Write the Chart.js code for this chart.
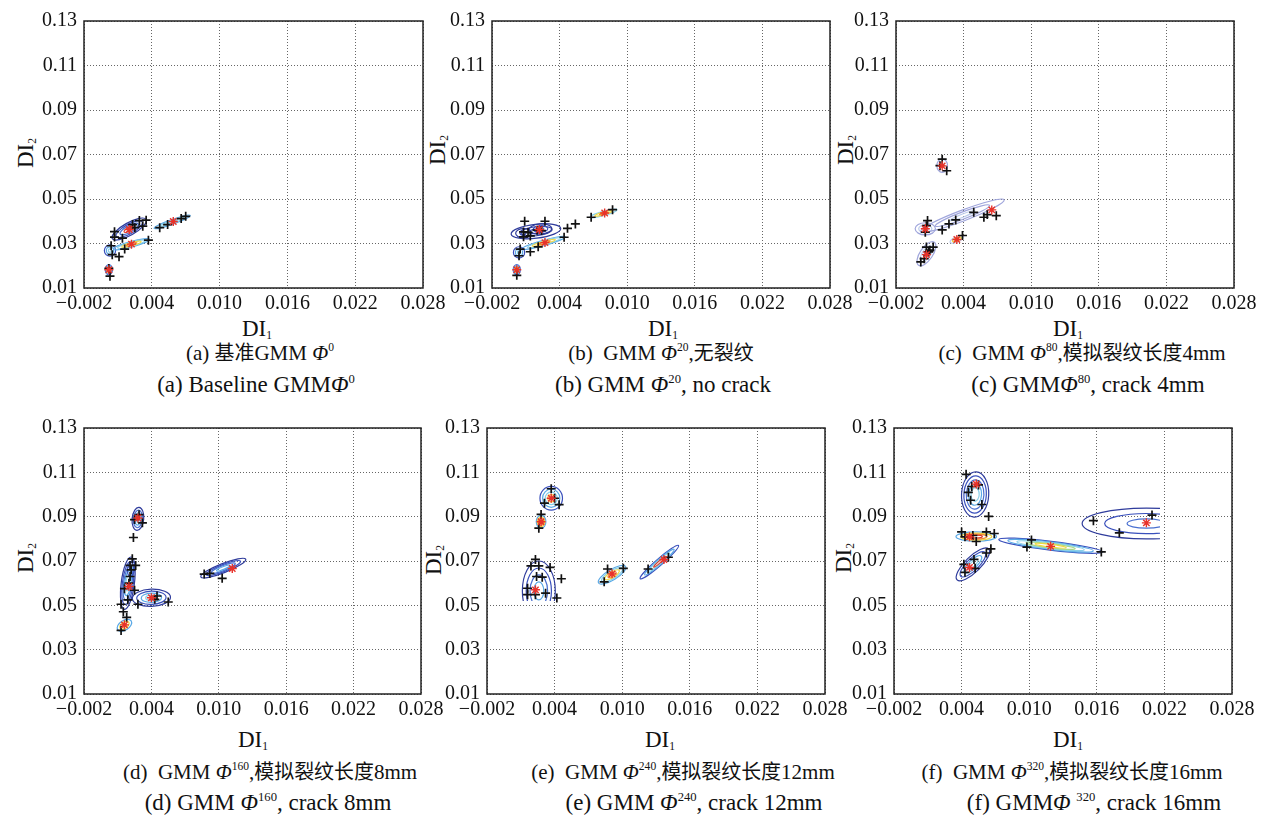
<!DOCTYPE html>
<html>
<head>
<meta charset="utf-8">
<script src="https://cdn.jsdelivr.net/npm/chart.js@4.4.1/dist/chart.umd.min.js"></script>
<style>
  body { margin: 0; background: #fff; width: 1276px; height: 816px; position: relative; overflow: hidden;
         font-family: "Liberation Serif", "Times New Roman", Times, "DejaVu Serif", serif; color: #111; }
  canvas { position: absolute; }
  .t { position: absolute; white-space: nowrap; transform: translate(-50%, -50%); line-height: 1; }
  .cjk { font-family: "Noto Sans CJK SC", sans-serif; font-size: 0.95em; }
  .ax { font-size: 23px; }
  .yt { transform: translate(-50%, -50%) rotate(-90deg); }
  .c1 { font-size: 21px; }
  .c2 { font-size: 23px; }
  sup { font-size: 0.55em; vertical-align: baseline; position: relative; top: -0.75em; }
  sub { font-size: 0.5em; vertical-align: baseline; position: relative; top: 0.3em; }
</style>
</head>
<body>

<div class="t ax" style="left:257px;top:328px">DI<sub>1</sub></div>
<div class="t ax" style="left:663px;top:328px">DI<sub>1</sub></div>
<div class="t ax" style="left:1068px;top:328px">DI<sub>1</sub></div>
<div class="t ax" style="left:253px;top:739px">DI<sub>1</sub></div>
<div class="t ax" style="left:660px;top:739px">DI<sub>1</sub></div>
<div class="t ax" style="left:1068px;top:739px">DI<sub>1</sub></div>

<div class="t ax yt" style="left:25px;top:153px">DI<sub>2</sub></div>
<div class="t ax yt" style="left:437px;top:150px">DI<sub>2</sub></div>
<div class="t ax yt" style="left:845px;top:150px">DI<sub>2</sub></div>
<div class="t ax yt" style="left:25px;top:558px">DI<sub>2</sub></div>
<div class="t ax yt" style="left:433px;top:560px">DI<sub>2</sub></div>
<div class="t ax yt" style="left:843px;top:558px">DI<sub>2</sub></div>

<div class="t c1" style="left:260px;top:353px">(a) <span class="cjk">基准</span>GMM <i>Φ</i><sup>0</sup></div>
<div class="t c2" style="left:256px;top:384px">(a) Baseline GMM<i>Φ</i><sup>0</sup></div>
<div class="t c1" style="left:661px;top:353px">(b)&nbsp; GMM <i>Φ</i><sup>20</sup>,<span class="cjk">无裂纹</span></div>
<div class="t c2" style="left:663px;top:384px">(b) GMM <i>Φ</i><sup>20</sup>, no crack</div>
<div class="t c1" style="left:1082px;top:353px">(c)&nbsp; GMM <i>Φ</i><sup>80</sup>,<span class="cjk">模拟裂纹长度</span>4mm</div>
<div class="t c2" style="left:1088px;top:384px">(c) GMM<i>Φ</i><sup>80</sup>, crack 4mm</div>
<div class="t c1" style="left:270px;top:772px">(d)&nbsp; GMM <i>Φ</i><sup>160</sup>,<span class="cjk">模拟裂纹长度</span>8mm</div>
<div class="t c2" style="left:268px;top:802px">(d) GMM <i>Φ</i><sup>160</sup>, crack 8mm</div>
<div class="t c1" style="left:683px;top:772px">(e)&nbsp; GMM <i>Φ</i><sup>240</sup>,<span class="cjk">模拟裂纹长度</span>12mm</div>
<div class="t c2" style="left:694px;top:802px">(e) GMM <i>Φ</i><sup>240</sup>, crack 12mm</div>
<div class="t c1" style="left:1072px;top:772px">(f)&nbsp; GMM <i>Φ</i><sup>320</sup>,<span class="cjk">模拟裂纹长度</span>16mm</div>
<div class="t c2" style="left:1094px;top:802px">(f) GMM<i>Φ</i> <sup>320</sup>, crack 16mm</div>

<script>
// axis ticks shared by all six panels
const xTicks = [-0.002, 0.004, 0.010, 0.016, 0.022, 0.028];
const xTickLabels = ['\u22120.002', '0.004', '0.010', '0.016', '0.022', '0.028'];
const yTicks = [0.01, 0.03, 0.05, 0.07, 0.09, 0.11, 0.13];
const yTickLabels = ['0.01', '0.03', '0.05', '0.07', '0.09', '0.11', '0.13'];

// contour colours (outer -> inner)
const NAVY = '#2f3c9c', BLUE = '#3a50bc', MID = '#4a70d0', SKY = '#5aa9e6', CYAN = '#8ad0e8',
      GREEN = '#a8d88a', YEL = '#f0d840', ORA = '#f08a30', RED = '#d83a2a', PALE = '#a0a6dc', PALE2 = '#bccbea';

// (a) baseline
const ptsA = [[0.0007,0.0353],[0.0007,0.0329],[0.0014,0.0324],[0.0025,0.0371],[0.0029,0.0403],[0.0032,0.0378],
  [0.0023,0.0385],[0.0035,0.0405],[0.0004,0.0290],[0.0005,0.0250],[0.0011,0.0241],[0.0016,0.0275],[0.0037,0.0315],
  [0.0003,0.0153],[0.0002,0.0188],[0.0047,0.0371],[0.0054,0.0385],[0.0066,0.0412],[0.0070,0.0422]];
const starsA = [[0.0020,0.0363],[0.0022,0.0297],[0.0002,0.0182],[0.0059,0.0399]];
const ellA = [
  { c: [0.0020,0.0365], e: [0.0035,0.0408], r: 0.32, cols: [NAVY, BLUE, MID, RED] },
  { c: [0.0003,0.0268], e: [0.0008,0.0268], r: 1.0, cols: [BLUE, SKY, CYAN] },
  { c: [0.0022,0.0297], e: [0.0038,0.0319], r: 0.15, cols: [SKY, CYAN, YEL, ORA] },
  { c: [0.0002,0.0182], e: [0.0002,0.0205], r: 0.7, cols: [MID, SKY, YEL, ORA] },
  { c: [0.0058,0.0397], e: [0.0074,0.0426], r: 0.12, cols: [SKY, CYAN, CYAN] }
];

// (b) no crack
const ptsB = [[0.0009,0.0400],[0.0008,0.0352],[0.0008,0.0330],[0.0014,0.0334],[0.0027,0.0400],[0.0020,0.0360],
  [0.0024,0.0358],[0.0012,0.0350],[0.0047,0.0368],[0.0054,0.0388],[0.0014,0.0263],[0.0021,0.0285],[0.0044,0.0328],
  [0.0005,0.0275],[0.0004,0.0245],[0.0002,0.0157],[0.0068,0.0418],[0.0087,0.0452]];
const starsB = [[0.0022,0.0363],[0.0027,0.0304],[0.0080,0.0437],[0.0002,0.0182]];
const ellB = [
  { c: [0.0019,0.0355], e: [0.0041,0.0368], r: 0.28, cols: [NAVY, NAVY, BLUE] },
  { c: [0.0008,0.0346], e: [0.0015,0.0346], r: 0.6, cols: [NAVY, BLUE] },
  { c: [0.0023,0.0365], e: [0.0033,0.0368], r: 0.45, cols: [NAVY, BLUE, MID] },
  { c: [0.0026,0.0303], e: [0.0045,0.0330], r: 0.12, cols: [SKY, CYAN, YEL, ORA] },
  { c: [0.0004,0.0260], e: [0.0009,0.0260], r: 1.0, cols: [BLUE, SKY, CYAN] },
  { c: [0.0002,0.0182], e: [0.0002,0.0205], r: 0.7, cols: [MID, SKY, YEL, ORA] },
  { c: [0.0079,0.0435], e: [0.0091,0.0452], r: 0.15, cols: [CYAN, YEL, ORA] }
];

// (c) crack 4mm
const ptsC = [[0.0021,0.0679],[0.0019,0.0650],[0.0025,0.0627],[0.0008,0.0403],[0.0007,0.0380],[0.0006,0.0351],
  [0.0021,0.0361],[0.0027,0.0388],[0.0033,0.0406],[0.0049,0.0440],[0.0058,0.0418],[0.0061,0.0430],[0.0069,0.0425],
  [0.0039,0.0336],[0.0007,0.0284],[0.0013,0.0284],[0.0010,0.0270],[0.0002,0.0217],[0.0005,0.0232],[0.0009,0.0262]];
const starsC = [[0.0021,0.0649],[0.0006,0.0366],[0.0065,0.0451],[0.0034,0.0318],[0.0007,0.0250]];
const ellC = [
  { c: [0.0021,0.0650], e: [0.0021,0.0680], r: 0.8, cols: [PALE, PALE2] },
  { c: [0.0006,0.0366], e: [0.0015,0.0366], r: 0.6, cols: [PALE, PALE2, PALE2] },
  { c: [0.0039,0.0425], e: [0.0076,0.0496], r: 0.12, cols: [PALE, PALE, PALE2] },
  { c: [0.0034,0.0318], e: [0.0040,0.0330], r: 0.35, cols: [PALE2, YEL, ORA] },
  { c: [0.0007,0.0254], e: [0.0014,0.0306], r: 0.45, cols: [PALE, PALE2, PALE2] }
];

// (d) crack 8mm
const ptsD = [[0.0029,0.0909],[0.0025,0.0887],[0.0032,0.0872],[0.0024,0.0806],[0.0023,0.0710],[0.0021,0.0680],
  [0.0026,0.0680],[0.0022,0.0660],[0.0021,0.0630],[0.0020,0.0600],[0.0016,0.0575],[0.0025,0.0568],[0.0013,0.0505],
  [0.0015,0.0471],[0.0019,0.0525],[0.0028,0.0505],[0.0043,0.0527],[0.0055,0.0515],[0.0045,0.0542],[0.0018,0.0446],
  [0.0013,0.0387],[0.0087,0.0641],[0.0092,0.0644],[0.0103,0.0622]];
const starsD = [[0.0028,0.0894],[0.0020,0.0585],[0.0040,0.0534],[0.0016,0.0412],[0.0112,0.0666]];
const ellD = [
  { c: [0.0028,0.0890], e: [0.0029,0.0942], r: 0.5, cols: [NAVY, MID, SKY, CYAN] },
  { c: [0.0019,0.0600], e: [0.0022,0.0718], r: 0.25, cols: [NAVY, BLUE, MID, SKY, CYAN] },
  { c: [0.0022,0.0665], e: [0.0023,0.0700], r: 0.45, cols: [BLUE, SKY] },
  { c: [0.0040,0.0534], e: [0.0057,0.0537], r: 0.45, cols: [NAVY, BLUE, SKY, CYAN] },
  { c: [0.0016,0.0410], e: [0.0022,0.0430], r: 0.6, cols: [SKY, YEL, ORA] },
  { c: [0.0104,0.0668], e: [0.0124,0.0708], r: 0.19, cols: [NAVY, BLUE, MID, SKY] }
];

// (e) crack 12mm
const ptsE = [[0.0037,0.1026],[0.0031,0.0961],[0.0044,0.0954],[0.0040,0.0983],[0.0028,0.0910],[0.0026,0.0848],
  [0.0023,0.0707],[0.0019,0.0678],[0.0026,0.0678],[0.0036,0.0671],[0.0024,0.0630],[0.0029,0.0627],[0.0046,0.0620],
  [0.0016,0.0577],[0.0016,0.0548],[0.0023,0.0548],[0.0032,0.0555],[0.0042,0.0533],[0.0087,0.0664],[0.0101,0.0667],
  [0.0084,0.0606],[0.0123,0.0664],[0.0141,0.0717]];
const starsE = [[0.0037,0.0983],[0.0028,0.0877],[0.0023,0.0570],[0.0091,0.0642],[0.0137,0.0707]];
const ellE = [
  { c: [0.0037,0.0983], e: [0.0047,0.0983], r: 1.05, cols: [BLUE, SKY, CYAN, YEL] },
  { c: [0.0028,0.0877], e: [0.0028,0.0906], r: 0.75, cols: [SKY, YEL, ORA, RED] },
  { c: [0.0026,0.0565], e: [0.0026,0.0700], r: 0.55, ymin: 0.052, cols: [NAVY, BLUE, MID, SKY] },
  { c: [0.0091,0.0638], e: [0.0103,0.0675], r: 0.33, cols: [SKY, CYAN, YEL, ORA] },
  { c: [0.0133,0.0695], e: [0.0150,0.0770], r: 0.13, cols: [BLUE, SKY, CYAN, RED] }
];

// (f) crack 16mm
const ptsF = [[0.0044,0.1091],[0.0049,0.1036],[0.0055,0.1043],[0.0046,0.1010],[0.0048,0.0974],[0.0058,0.0955],
  [0.0064,0.0901],[0.0040,0.0831],[0.0043,0.0809],[0.0053,0.0788],[0.0062,0.0831],[0.0069,0.0824],[0.0050,0.0815],
  [0.0042,0.0685],[0.0043,0.0649],[0.0052,0.0667],[0.0062,0.0736],[0.0066,0.0755],[0.0051,0.0707],[0.0102,0.0795],
  [0.0098,0.0763],[0.0164,0.0741],[0.0157,0.0882],[0.0209,0.0907],[0.0180,0.0827]];
const starsF = [[0.0053,0.1047],[0.0047,0.0809],[0.0047,0.0671],[0.0119,0.0766],[0.0204,0.0872]];
const ellF = [
  { c: [0.0052,0.1000], e: [0.0053,0.1102], r: 0.6, cols: [NAVY, BLUE, MID, SKY, CYAN] },
  { c: [0.0053,0.0810], e: [0.0071,0.0810], r: 0.23, cols: [SKY, YEL, ORA, RED] },
  { c: [0.0050,0.0685], e: [0.0064,0.0755], r: 0.35, cols: [NAVY, BLUE, SKY, CYAN] },
  { c: [0.0119,0.0769], e: [0.0165,0.0741], r: 0.085, cols: [BLUE, SKY, CYAN, GREEN, YEL] },
  { c: [0.0204,0.0869], e: [0.0261,0.0869], r: 0.24, xmax: 0.0216, cols: [NAVY, BLUE, MID] }
];

const panels = [
  { box: [84, 17, 423, 288], pts: ptsA, stars: starsA, ells: ellA },
  { box: [492, 17, 830, 288], pts: ptsB, stars: starsB, ells: ellB },
  { box: [896, 17, 1234, 288], pts: ptsC, stars: starsC, ells: ellC },
  { box: [84, 424, 421, 694], pts: ptsD, stars: starsD, ells: ellD },
  { box: [487, 424, 825, 694], pts: ptsE, stars: starsE, ells: ellE },
  { box: [894, 424, 1232, 694], pts: ptsF, stars: starsF, ells: ellF }
];

// GMM contour ellipses, drawn through the chart scales
function contourPlugin(ells) {
  return {
    id: 'contours',
    beforeDatasetsDraw(chart) {
      const { ctx, chartArea: a, scales: { x, y } } = chart;
      ctx.save();
      ctx.beginPath();
      ctx.rect(a.left, a.top, a.width, a.height);
      ctx.clip();
      ells.forEach((el) => {
        const cx = x.getPixelForValue(el.c[0]), cy = y.getPixelForValue(el.c[1]);
        const ex = x.getPixelForValue(el.e[0]), ey = y.getPixelForValue(el.e[1]);
        const len = Math.hypot(ex - cx, ey - cy);
        const ang = Math.atan2(ey - cy, ex - cx);
        ctx.save();
        if (el.xmax !== undefined) {
          ctx.beginPath();
          ctx.rect(a.left, a.top, x.getPixelForValue(el.xmax) - a.left, a.height);
          ctx.clip();
        }
        if (el.ymin !== undefined) {
          ctx.beginPath();
          ctx.rect(a.left, a.top, a.width, y.getPixelForValue(el.ymin) - a.top);
          ctx.clip();
        }
        const n = el.cols.length;
        el.cols.forEach((col, k) => {
          const s = n > 1 ? 1 - k * 0.7 / (n - 1) : 1;
          ctx.beginPath();
          ctx.ellipse(cx, cy, len * s, len * el.r * s, ang, 0, Math.PI * 2);
          ctx.strokeStyle = col;
          ctx.lineWidth = 1.2;
          ctx.stroke();
        });
        ctx.restore();
      });
      ctx.restore();
    }
  };
}

const framePlugin = {
  id: 'frame',
  afterDraw(chart) {
    const { ctx, chartArea: a } = chart;
    ctx.save();
    ctx.strokeStyle = '#222';
    ctx.lineWidth = 1.5;
    ctx.strokeRect(a.left, a.top, a.width, a.height);
    ctx.restore();
  }
};

const tickFont = { family: '"Liberation Serif", "Times New Roman", "DejaVu Serif", serif', size: 20 };

panels.forEach((p) => {
  const [L, T, R, B] = p.box;
  const cv = document.createElement('canvas');
  cv.width = R - L + 105;
  cv.height = B - T + 45;
  cv.style.left = (L - 70) + 'px';
  cv.style.top = (T - 15) + 'px';
  document.body.appendChild(cv);

  new Chart(cv, {
    type: 'scatter',
    data: {
      datasets: [
        {
          data: p.stars.map(([x, y]) => ({ x, y })),
          pointStyle: 'star', pointRadius: 4.5, borderWidth: 1.4,
          borderColor: '#e8322a', backgroundColor: '#e8322a'
        },
        {
          data: p.pts.map(([x, y]) => ({ x, y })),
          pointStyle: 'cross', pointRadius: 4.5, borderWidth: 1.7,
          borderColor: '#111', backgroundColor: '#111'
        }
      ]
    },
    options: {
      responsive: false,
      animation: false,
      devicePixelRatio: 1,
      layout: { padding: { left: 0, top: 15, right: 35, bottom: 0 } },
      plugins: { legend: { display: false }, tooltip: { enabled: false } },
      scales: {
        x: {
          type: 'linear', min: -0.002, max: 0.028,
          afterBuildTicks: (s) => { s.ticks = xTicks.map((v) => ({ value: v })); },
          afterFit: (s) => { s.height = 30; },
          ticks: { callback: (v, i) => xTickLabels[i], font: tickFont, color: '#111', padding: 4, maxRotation: 0, autoSkip: false },
          grid: { color: '#666', lineWidth: 1, drawTicks: false },
          border: { display: false, dash: [1, 2] }
        },
        y: {
          type: 'linear', min: 0.01, max: 0.13,
          afterBuildTicks: (s) => { s.ticks = yTicks.map((v) => ({ value: v })); },
          afterFit: (s) => { s.width = 70; },
          ticks: { callback: (v, i) => yTickLabels[i], font: tickFont, color: '#111', padding: 7, autoSkip: false },
          grid: { color: '#666', lineWidth: 1, drawTicks: false },
          border: { display: false, dash: [1, 2] }
        }
      }
    },
    plugins: [contourPlugin(p.ells), framePlugin]
  });
});
</script>
</body>
</html>
